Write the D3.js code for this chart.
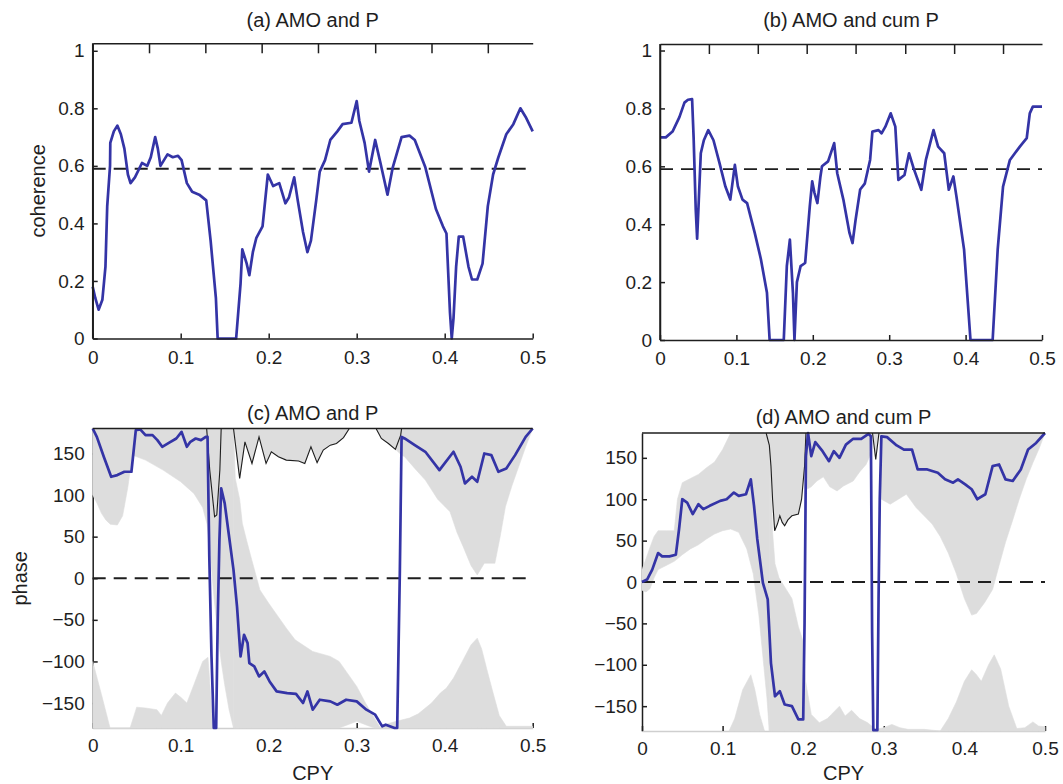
<!DOCTYPE html>
<html>
<head>
<meta charset="utf-8">
<script src="https://cdn.jsdelivr.net/npm/d3@7"></script>
<style>
  body { margin: 0; background: #fff; }
  svg { display: block; }
  text { font-family: "Liberation Sans", Arial, Helvetica, sans-serif; fill: #1e1e1e; }
</style>
</head>
<body>
<svg id="fig" width="1063" height="784"></svg>
<script>
// ---------- data (frequency in cycles per year) ----------
// coherence, AMO vs precipitation
const cohAMO_P = [[0,0.18],[0.003,0.14],[0.0067,0.10],[0.011,0.135],[0.013,0.2],[0.0145,0.25],[0.0165,0.46],[0.0197,0.6],[0.02,0.68],[0.024,0.72],[0.028,0.74],[0.032,0.71],[0.036,0.66],[0.04,0.57],[0.043,0.54],[0.048,0.56],[0.056,0.61],[0.062,0.6],[0.066,0.63],[0.071,0.70],[0.074,0.66],[0.077,0.60],[0.081,0.62],[0.085,0.64],[0.091,0.63],[0.097,0.635],[0.101,0.62],[0.107,0.54],[0.113,0.51],[0.121,0.50],[0.129,0.48],[0.134,0.34],[0.14,0.14],[0.142,0],[0.163,0],[0.168,0.19],[0.17,0.31],[0.175,0.26],[0.178,0.22],[0.182,0.30],[0.186,0.35],[0.193,0.39],[0.199,0.57],[0.205,0.53],[0.212,0.54],[0.219,0.47],[0.223,0.49],[0.229,0.56],[0.233,0.48],[0.239,0.37],[0.244,0.30],[0.248,0.34],[0.254,0.48],[0.258,0.58],[0.264,0.62],[0.27,0.69],[0.278,0.72],[0.284,0.745],[0.294,0.75],[0.3,0.825],[0.303,0.756],[0.309,0.68],[0.314,0.58],[0.321,0.69],[0.327,0.61],[0.335,0.50],[0.341,0.595],[0.351,0.70],[0.36,0.705],[0.366,0.69],[0.378,0.595],[0.39,0.45],[0.398,0.39],[0.402,0.365],[0.406,0.09],[0.408,0],[0.41,0.07],[0.413,0.25],[0.416,0.354],[0.421,0.354],[0.427,0.25],[0.431,0.205],[0.437,0.205],[0.443,0.26],[0.449,0.46],[0.455,0.57],[0.461,0.63],[0.47,0.71],[0.478,0.745],[0.486,0.80],[0.492,0.77],[0.5,0.72]];

// coherence, AMO vs cumulative precipitation
const cohAMO_cumP = [[0,0.70],[0.0076,0.70],[0.0164,0.72],[0.0254,0.77],[0.032,0.82],[0.0366,0.83],[0.042,0.832],[0.044,0.70],[0.0468,0.45],[0.0486,0.35],[0.0508,0.485],[0.0534,0.645],[0.0574,0.69],[0.0632,0.725],[0.07,0.69],[0.078,0.61],[0.0856,0.53],[0.092,0.485],[0.098,0.605],[0.102,0.53],[0.108,0.485],[0.114,0.473],[0.124,0.37],[0.132,0.28],[0.14,0.163],[0.1435,0],[0.162,0],[0.166,0.255],[0.17,0.347],[0.174,0.163],[0.176,0],[0.1792,0.2],[0.184,0.255],[0.19,0.266],[0.196,0.46],[0.1992,0.548],[0.202,0.51],[0.206,0.473],[0.21,0.565],[0.212,0.6],[0.22,0.617],[0.228,0.68],[0.232,0.576],[0.24,0.485],[0.248,0.37],[0.252,0.335],[0.256,0.415],[0.262,0.52],[0.268,0.54],[0.275,0.622],[0.278,0.72],[0.286,0.725],[0.29,0.714],[0.295,0.737],[0.302,0.783],[0.308,0.737],[0.312,0.553],[0.32,0.57],[0.326,0.645],[0.332,0.593],[0.342,0.519],[0.348,0.622],[0.358,0.725],[0.364,0.668],[0.372,0.645],[0.378,0.519],[0.384,0.565],[0.388,0.496],[0.398,0.312],[0.4064,0],[0.4354,0],[0.442,0.312],[0.449,0.53],[0.458,0.622],[0.471,0.668],[0.48,0.697],[0.484,0.783],[0.488,0.806],[0.5,0.806]];

// phase (degrees), AMO vs precipitation
const phaseAMO_P = [[0,180],[0.0047,170],[0.0126,146],[0.021,122],[0.028,124],[0.036,128],[0.044,128],[0.049,178],[0.054,179],[0.06,172],[0.068,172],[0.0735,166],[0.079,158],[0.087,163],[0.095,168],[0.101,176],[0.107,158],[0.111,164],[0.117,168],[0.123,166],[0.1285,170],[0.1305,170],[0.1325,26],[0.135,-94],[0.1376,-180],[0.1403,-180],[0.142,-54],[0.144,46],[0.146,108],[0.15,90],[0.154,58],[0.16,10],[0.164,-34],[0.168,-94],[0.172,-68],[0.176,-78],[0.178,-102],[0.1836,-106],[0.189,-118],[0.195,-112],[0.201,-124],[0.209,-136],[0.221,-138],[0.231,-139],[0.239,-150],[0.244,-136],[0.25,-158],[0.258,-146],[0.27,-148],[0.278,-152],[0.288,-146],[0.3,-148],[0.311,-158],[0.321,-164],[0.329,-178],[0.333,-176],[0.343,-180],[0.346,-180],[0.349,6],[0.351,170],[0.3545,168],[0.366,160],[0.378,152],[0.394,130],[0.41,152],[0.418,134],[0.423,114],[0.431,122],[0.437,116],[0.445,150],[0.453,148],[0.461,128],[0.47,132],[0.48,148],[0.492,170],[0.5,180]];

// phase (degrees), AMO vs cumulative precipitation
const phaseAMO_cumP = [[0,0],[0.0063,3],[0.0127,15],[0.02,35],[0.025,31],[0.034,31],[0.042,33],[0.046,64],[0.05,100],[0.056,96],[0.063,82],[0.07,94],[0.076,88],[0.084,92],[0.097,98],[0.105,100],[0.114,108],[0.12,104],[0.129,106],[0.135,124],[0.139,92],[0.143,52],[0.15,-1],[0.156,-21],[0.16,-98],[0.165,-138],[0.171,-132],[0.177,-148],[0.186,-150],[0.194,-166],[0.2,-166],[0.2017,-49],[0.2034,152],[0.206,180],[0.21,152],[0.215,169],[0.224,158],[0.232,146],[0.238,158],[0.245,150],[0.253,166],[0.262,173],[0.272,173],[0.281,179],[0.284,176],[0.2855,-60],[0.287,-179],[0.292,-179],[0.2935,-20],[0.295,100],[0.297,176],[0.304,175],[0.316,165],[0.325,160],[0.335,160],[0.342,136],[0.354,136],[0.367,132],[0.376,124],[0.386,120],[0.392,124],[0.401,118],[0.409,112],[0.416,100],[0.426,106],[0.435,140],[0.443,142],[0.451,124],[0.46,122],[0.47,136],[0.479,160],[0.489,168],[0.5,180]];

// confidence shading for the phase panels: [freq, lower, upper] in degrees
const shadeP = [
  [[0,100,180],[0.005,90,180],[0.01,78,180],[0.015,70,180],[0.02,65,180],[0.028,64,180],[0.034,75,180],[0.04,110,180],[0.045,148,180],[0.06,142,180],[0.08,130,180],[0.1,116,180],[0.115,102,180],[0.125,85,180],[0.13,65,180],[0.134,25,180],[0.138,-25,180],[0.142,-65,180],[0.146,-100,180],[0.15,-128,180],[0.155,-158,180],[0.16,-180,180]],
  [[0.16,-180,180],[0.162,-180,120],[0.167,-180,95],[0.17,-180,66],[0.175,-180,45],[0.18,-180,25],[0.19,-180,-14],[0.2,-180,-30],[0.21,-180,-45],[0.22,-180,-60],[0.23,-180,-74],[0.25,-180,-88],[0.27,-180,-94],[0.28,-180,-100],[0.29,-176,-115],[0.3,-172,-130],[0.31,-176,-150],[0.32,-180,-168],[0.327,-180,-180]],
  [[0.16,180,180],[0.167,120,180],[0.173,164,180],[0.181,138,180],[0.189,170,180],[0.197,138,180],[0.203,152,180],[0.211,146,180],[0.22,142,180],[0.234,141,180],[0.241,138,180],[0.248,158,180],[0.255,139,180],[0.262,154,180],[0.27,160,180],[0.277,162,180],[0.285,169,180],[0.2916,180,180]],
  [[0,-180,-100],[0.01,-180,-140],[0.0197,-180,-180],[0.0425,-180,-180],[0.05,-180,-155],[0.06,-180,-156],[0.073,-180,-158],[0.078,-180,-165],[0.085,-180,-150],[0.094,-180,-138],[0.1,-180,-143],[0.107,-180,-150],[0.115,-180,-128],[0.125,-180,-100],[0.131,-180,-95],[0.134,-180,-140],[0.137,-180,-180]],
  [[0.322,180,180],[0.328,168,180],[0.336,162,180],[0.344,155,180],[0.351,148,180],[0.3545,146,180],[0.366,132,180],[0.378,118,180],[0.392,95,180],[0.406,80,180],[0.414,55,180],[0.421,38,180],[0.43,15,180],[0.437,4,180],[0.445,18,180],[0.457,18,180],[0.463,50,180],[0.469,86,180],[0.476,110,180],[0.484,134,180],[0.492,158,180],[0.5,180,180]],
  [[0.327,-180,-180],[0.335,-180,-175],[0.345,-180,-172],[0.36,-180,-168],[0.37,-180,-163],[0.385,-180,-150],[0.395,-180,-138],[0.402,-180,-132],[0.41,-180,-120],[0.42,-180,-100],[0.43,-180,-80],[0.437,-180,-72],[0.442,-180,-85],[0.448,-180,-110],[0.455,-180,-138],[0.462,-180,-165],[0.47,-180,-178],[0.5,-180,-178]]
];
const shadeCumP = [
  [[0,-10,15],[0.005,-12,28],[0.01,-8,42],[0.015,5,55],[0.02,15,62],[0.03,20,62],[0.04,25,62],[0.044,28,100],[0.05,33,120],[0.06,40,125],[0.07,45,130],[0.08,52,138],[0.09,58,145],[0.1,62,160],[0.11,64,180],[0.12,60,180],[0.13,40,180],[0.138,10,180],[0.145,-40,180],[0.15,-90,180],[0.155,-140,180],[0.158,-180,180]],
  [[0.158,-180,180],[0.16,-180,130],[0.162,-180,60],[0.165,-180,22],[0.17,-180,5],[0.177,-180,-6],[0.186,-180,-20],[0.194,-180,-54],[0.2,-180,-72],[0.203,-180,-120],[0.21,-180,-160],[0.22,-180,-170],[0.23,-180,-165],[0.235,-180,-160],[0.245,-180,-150],[0.252,-180,-162],[0.26,-180,-155],[0.27,-180,-165],[0.28,-180,-170],[0.29,-180,-178],[0.3,-180,-176],[0.31,-180,-172],[0.32,-180,-176],[0.33,-180,-178],[0.35,-180,-178],[0.37,-180,-180]],
  [[0.154,180,180],[0.158,165,180],[0.16,140,180],[0.162,100,180],[0.1646,62,180],[0.168,70,180],[0.171,80,180],[0.174,72,180],[0.177,68,180],[0.181,75,180],[0.186,80,180],[0.194,82,180],[0.198,100,180],[0.2017,140,180],[0.2034,178,180],[0.2045,112,180],[0.21,115,180],[0.217,122,180],[0.225,127,180],[0.233,115,180],[0.242,110,180],[0.25,116,180],[0.262,122,180],[0.27,133,180],[0.278,142,180],[0.284,155,180],[0.286,180,180]],
  [[0.286,180,180],[0.29,148,180],[0.294,180,180]],
  [[0.295,180,180],[0.297,100,180],[0.308,94,180],[0.318,100,180],[0.328,106,180],[0.34,90,180],[0.35,80,180],[0.36,70,180],[0.37,55,180],[0.38,35,180],[0.39,10,180],[0.4,-20,180],[0.409,-40,180],[0.415,-38,180],[0.425,-25,180],[0.435,-9,180],[0.443,20,180],[0.451,48,180],[0.46,75,180],[0.468,100,180],[0.477,125,180],[0.485,144,180],[0.493,162,180],[0.5,180,180]],
  [[0.108,-180,-180],[0.115,-180,-165],[0.125,-180,-130],[0.135,-180,-112],[0.14,-180,-130],[0.146,-180,-160],[0.152,-180,-180]],
  [[0.37,-180,-180],[0.38,-180,-165],[0.39,-180,-145],[0.4,-180,-120],[0.409,-180,-106],[0.415,-180,-112],[0.421,-180,-120],[0.43,-180,-100],[0.437,-180,-88],[0.445,-180,-105],[0.455,-180,-150],[0.465,-180,-177],[0.475,-180,-176],[0.485,-180,-169],[0.492,-180,-174],[0.5,-180,-175]]
];

// wrapped lower confidence bound, drawn as a thin black line (null = gap)
const boundP = [[0.1295,180],[0.133,130],[0.1385,74],[0.141,76],[0.1445,130],[0.146,180],null,
  [0.16,180],[0.167,120],[0.173,164],[0.181,138],[0.189,170],[0.197,138],[0.203,152],[0.211,146],[0.22,142],[0.234,141],[0.241,138],[0.248,158],[0.255,139],[0.262,154],[0.27,160],[0.277,162],[0.285,169],[0.2916,180],null,
  [0.322,180],[0.328,168],[0.336,162],[0.344,155],[0.35,172],[0.351,180]];
const boundCumP = [[0.154,180],[0.158,165],[0.16,140],[0.162,100],[0.1646,62],[0.168,70],[0.171,80],[0.174,72],[0.177,68],[0.181,75],[0.186,80],[0.194,82],[0.198,100],[0.2017,140],[0.2034,180],null,
  [0.286,180],[0.29,148],[0.294,180]];

// axis ticks and reference levels
const freqTicks = [0, 0.1, 0.2, 0.3, 0.4, 0.5];
const cohTicks = [0, 0.2, 0.4, 0.6, 0.8, 1];
const phaseTicks = [-150, -100, -50, 0, 50, 100, 150];
const upperTicks = [0.064, 0.128, 0.192, 0.256, 0.321, 0.385, 0.449];
const cohLevel = 0.59;
const phaseLevel = 0;

// ---------- drawing ----------
const BLUE = "#3434a6", SHADE = "#dddddd", INK = "#1e1e1e";
const svg = d3.select("#fig");

function fmtCoh(d) { return d === 0 ? "0" : d === 1 ? "1" : d3.format(".1f")(d); }
function fmtFreq(d) { return d === 0 ? "0" : d3.format(".1f")(d); }

function styleAxis(g, color) {
  g.selectAll("path.domain").attr("stroke", color).attr("stroke-width", 1.5);
  g.selectAll(".tick line").attr("stroke", color).attr("stroke-width", 1.5);
  g.selectAll(".tick text").attr("font-size", 19).attr("fill", INK)
    .style("font-family", '"Liberation Sans", Arial, sans-serif');
}

function coherencePanel(box, data, title, ylabel) {
  const x = d3.scaleLinear([0, 0.5], [box.l, box.r]);
  const y = d3.scaleLinear([0, box.ymax], [box.b, box.t]);
  const g = svg.append("g");

  // dashed significance level
  g.append("line").attr("x1", x(0)).attr("x2", x(0.5))
    .attr("y1", y(cohLevel)).attr("y2", y(cohLevel))
    .attr("stroke", INK).attr("stroke-width", 1.8).attr("stroke-dasharray", "13,8");

  g.append("path").datum(data)
    .attr("d", d3.line().x(d => x(d[0])).y(d => y(d[1])))
    .attr("fill", "none").attr("stroke", BLUE).attr("stroke-width", 2.7)
    .attr("stroke-linejoin", "round");

  const ax = g.append("g").attr("transform", `translate(0,${box.b})`)
    .call(d3.axisBottom(x).tickValues(freqTicks).tickFormat(fmtFreq)
      .tickSizeInner(-5).tickSizeOuter(0).tickPadding(12));
  styleAxis(ax, INK);
  const ay = g.append("g").attr("transform", `translate(${box.l},0)`)
    .call(d3.axisLeft(y).tickValues(cohTicks).tickFormat(fmtCoh)
      .tickSizeInner(-5).tickSizeOuter(0).tickPadding(8));
  styleAxis(ay, INK);
  // extend the left spine to the top border
  g.append("line").attr("x1", box.l).attr("x2", box.l).attr("y1", box.t).attr("y2", box.b)
    .attr("stroke", INK).attr("stroke-width", 1.5);
  const at = g.append("g").attr("transform", `translate(0,${box.t})`)
    .call(d3.axisTop(x).tickValues(upperTicks).tickFormat("")
      .tickSizeInner(-10).tickSizeOuter(0));
  styleAxis(at, INK);

  g.append("text").attr("x", (box.l + box.r) / 2).attr("y", 27)
    .attr("text-anchor", "middle").attr("font-size", 20).text(title);
  if (ylabel) {
    g.append("text").attr("transform", `translate(${box.labelX},${(box.t + box.b) / 2}) rotate(-90)`)
      .attr("text-anchor", "middle").attr("font-size", 20).text(ylabel);
  }
}

function phasePanel(box, data, shades, bound, title, ylabel) {
  const x = d3.scaleLinear([0, 0.5], [box.l, box.r]);
  const y = d3.scaleLinear([-180, 180], [box.b, box.t]);
  const g = svg.append("g");

  // axes first: the shading lies over them
  const ay = g.append("g").attr("transform", `translate(${box.l},0)`)
    .call(d3.axisLeft(y).tickValues(phaseTicks)
      .tickSizeInner(-5).tickSizeOuter(0).tickPadding(box.pad));
  styleAxis(ay, INK);
  const ax = g.append("g").attr("transform", `translate(0,${box.b})`)
    .call(d3.axisBottom(x).tickValues(freqTicks).tickFormat(fmtFreq)
      .tickSizeInner(-5).tickSizeOuter(0).tickPadding(11));
  styleAxis(ax, INK);
  ax.select("path.domain").attr("stroke", "#cfcfcf");

  const area = d3.area().x(d => x(d[0])).y0(d => y(d[1])).y1(d => y(d[2]));
  g.selectAll("path.shade").data(shades).join("path").attr("class", "shade")
    .attr("d", area).attr("fill", SHADE).attr("stroke", SHADE).attr("stroke-width", 0.6);

  g.append("line").attr("x1", x(0)).attr("x2", x(0.5))
    .attr("y1", y(phaseLevel)).attr("y2", y(phaseLevel))
    .attr("stroke", INK).attr("stroke-width", 1.8).attr("stroke-dasharray", "13,8");

  g.append("path").datum(bound)
    .attr("d", d3.line().defined(d => d).x(d => x(d[0])).y(d => y(d[1])))
    .attr("fill", "none").attr("stroke", INK).attr("stroke-width", 1.1);

  g.append("path").datum(data)
    .attr("d", d3.line().x(d => x(d[0])).y(d => y(d[1])))
    .attr("fill", "none").attr("stroke", BLUE).attr("stroke-width", 2.7)
    .attr("stroke-linejoin", "round");

  g.append("line").attr("x1", box.l).attr("x2", box.r).attr("y1", box.t).attr("y2", box.t)
    .attr("stroke", INK).attr("stroke-width", 1.5);

  g.append("text").attr("x", (box.l + box.r) / 2).attr("y", box.titleY)
    .attr("text-anchor", "middle").attr("font-size", 20).text(title);
  g.append("text").attr("x", (box.l + box.r) / 2).attr("y", 780)
    .attr("text-anchor", "middle").attr("font-size", 20).text("CPY");
  if (ylabel) {
    g.append("text").attr("transform", `translate(${box.labelX},${(box.t + box.b) / 2}) rotate(-90)`)
      .attr("text-anchor", "middle").attr("font-size", 20).text(ylabel);
  }
}

coherencePanel({ l: 92.7, r: 532.7, t: 43.3, b: 338.5, ymax: 1.026, labelX: 45 },
  cohAMO_P, "(a) AMO and P", "coherence");
coherencePanel({ l: 660, r: 1042, t: 44, b: 340, ymax: 1.0225 },
  cohAMO_cumP, "(b) AMO and cum P", null);
phasePanel({ l: 92.7, r: 532.7, t: 428.5, b: 728, pad: 8, titleY: 420, labelX: 27 },
  phaseAMO_P, shadeP, boundP, "(c) AMO and P", "phase");
phasePanel({ l: 642, r: 1045, t: 433, b: 731, pad: 5, titleY: 424 },
  phaseAMO_cumP, shadeCumP, boundCumP, "(d) AMO and cum P", null);
</script>
</body>
</html>
